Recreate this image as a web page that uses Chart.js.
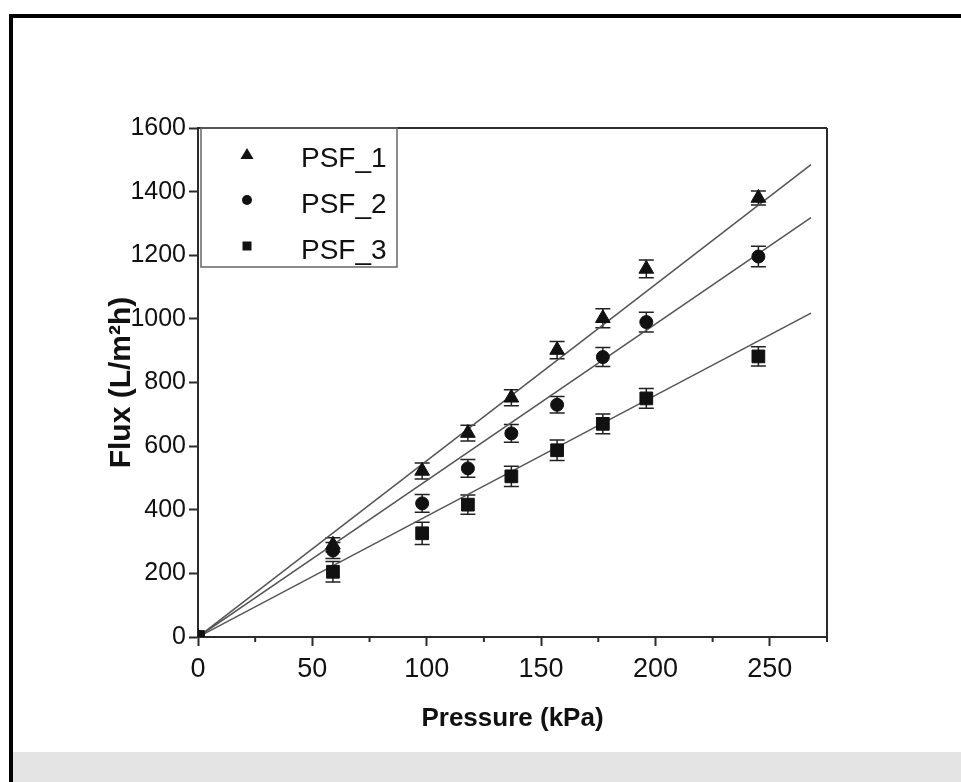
<!DOCTYPE html>
<html>
<head>
<meta charset="utf-8">
<title>Flux vs Pressure</title>
<script src="https://cdn.jsdelivr.net/npm/chart.js@4.4.1/dist/chart.umd.min.js"></script>
<style>
  html, body { margin: 0; padding: 0; background: #fff; }
  #wrap { position: relative; width: 961px; height: 782px; overflow: hidden; }
  #frame { position: absolute; left: 9px; top: 14px; width: 960px; height: 780px;
           border-top: 4px solid #000; border-left: 4px solid #000; }
  #shade { position: absolute; left: 13px; top: 752px; width: 948px; height: 30px; background: #e4e4e4; }
  canvas { position: absolute; left: 0; top: 0; }
</style>
</head>
<body>
<div id="wrap">
  <div id="shade"></div>
  <div id="frame"></div>
  <canvas id="fluxChart" width="961" height="782"></canvas>
</div>
<script>
// measured points (kPa -> L/m2h) with +/- error
const pressure = [0, 59, 98, 118, 137, 157, 177, 196, 245];
const psf1 = [0, 290, 522, 641, 752, 902, 1002, 1157, 1380];
const psf2 = [0, 272, 420, 530, 640, 730, 880, 990, 1196];
const psf3 = [0, 205, 326, 416, 505, 587, 670, 750, 882];
const err1 = [0, 22, 25, 25, 25, 27, 30, 28, 22];
const err2 = [0, 25, 28, 28, 28, 26, 30, 31, 32];
const err3 = [0, 32, 35, 30, 32, 32, 31, 31, 30];

// linear fits through the origin
const fitX = [0, 268];
const fit1 = [0, 1485];
const fit2 = [0, 1318];
const fit3 = [0, 1018];

const xTicks = [0, 50, 100, 150, 200, 250];
const xMinor = [25, 75, 125, 175, 225, 275];
const yTicks = [0, 200, 400, 600, 800, 1000, 1200, 1400, 1600];

const FONT = '"Liberation Sans", Arial, sans-serif';
const INK = '#111';
const AXIS = '#2b2b2b';

const series = [
  { label: 'PSF_1', values: psf1, err: err1, fit: fit1, style: 'triangle', radius: 8.5 },
  { label: 'PSF_2', values: psf2, err: err2, fit: fit2, style: 'circle', radius: 6.5 },
  { label: 'PSF_3', values: psf3, err: err3, fit: fit3, style: 'rect', radius: 9 }
];

const toPoints = (xs, ys) => xs.map((v, i) => ({ x: v, y: ys[i] }));

const markerSets = series.map(s => ({
  label: s.label,
  data: toPoints(pressure, s.values),
  pointStyle: s.style,
  pointRadius: s.radius,
  pointBackgroundColor: INK,
  pointBorderColor: INK,
  pointBorderWidth: 1,
  showLine: false
}));

const fitSets = series.map(s => ({
  label: s.label + ' fit',
  data: toPoints(fitX, s.fit),
  showLine: true,
  pointRadius: 0,
  borderColor: '#555',
  borderWidth: 1.5
}));

// vertical error bars with caps
const errorBars = {
  id: 'errorBars',
  beforeDatasetsDraw(chart) {
    const { ctx, scales: { x, y } } = chart;
    ctx.save();
    ctx.strokeStyle = '#222';
    ctx.lineWidth = 1.5;
    series.forEach(s => {
      pressure.forEach((p, i) => {
        const e = s.err[i];
        if (!e) return;
        const px = x.getPixelForValue(p);
        const top = y.getPixelForValue(s.values[i] + e);
        const bot = y.getPixelForValue(s.values[i] - e);
        ctx.beginPath();
        ctx.moveTo(px, top); ctx.lineTo(px, bot);
        ctx.moveTo(px - 7.5, top); ctx.lineTo(px + 7.5, top);
        ctx.moveTo(px - 7.5, bot); ctx.lineTo(px + 7.5, bot);
        ctx.stroke();
      });
    });
    ctx.restore();
  }
};

// closes the plot box and adds short minor ticks on x
const frameBox = {
  id: 'frameBox',
  afterDraw(chart) {
    const { ctx, chartArea: a, scales: { x } } = chart;
    ctx.save();
    ctx.strokeStyle = AXIS;
    ctx.lineWidth = 2;
    ctx.beginPath();
    ctx.moveTo(a.left, a.top); ctx.lineTo(a.right, a.top);
    ctx.moveTo(a.right, a.top); ctx.lineTo(a.right, a.bottom + 5);
    xMinor.forEach(v => {
      const px = x.getPixelForValue(v);
      ctx.moveTo(px, a.bottom); ctx.lineTo(px, a.bottom + 5);
    });
    ctx.stroke();
    ctx.restore();
  }
};

function drawMarker(ctx, style, cx, cy) {
  ctx.beginPath();
  if (style === 'triangle') {
    ctx.moveTo(cx, cy - 6);
    ctx.lineTo(cx + 6.5, cy + 5);
    ctx.lineTo(cx - 6.5, cy + 5);
    ctx.closePath();
  } else if (style === 'circle') {
    ctx.arc(cx, cy, 5, 0, Math.PI * 2);
  } else {
    ctx.rect(cx - 4.5, cy - 4.5, 9, 9);
  }
  ctx.fill();
}

// legend box sitting in the upper-left corner of the plot
const insetLegend = {
  id: 'insetLegend',
  afterDraw(chart) {
    const { ctx, chartArea: a } = chart;
    ctx.save();
    ctx.strokeStyle = '#666';
    ctx.lineWidth = 1.5;
    ctx.strokeRect(a.left + 3, a.top, 196, 139);
    ctx.fillStyle = INK;
    ctx.font = '28px ' + FONT;
    ctx.textBaseline = 'middle';
    ctx.textAlign = 'left';
    series.forEach((s, i) => {
      const cy = a.top + 26 + i * 46;
      drawMarker(ctx, s.style, a.left + 49, cy);
      ctx.fillText(s.label, a.left + 103, cy + 5);
    });
    ctx.restore();
  }
};

new Chart(document.getElementById('fluxChart'), {
  type: 'scatter',
  data: { datasets: [...markerSets, ...fitSets] },
  plugins: [errorBars, frameBox, insetLegend],
  options: {
    responsive: false,
    animation: false,
    devicePixelRatio: 1,
    layout: { padding: { left: 0, top: 128, right: 134, bottom: 25 } },
    plugins: {
      legend: { display: false },
      tooltip: { enabled: false }
    },
    scales: {
      x: {
        type: 'linear',
        min: 0,
        max: 275,
        afterBuildTicks: s => { s.ticks = xTicks.map(v => ({ value: v })); },
        afterFit: s => { s.height = 120; s.paddingLeft = 0; s.paddingRight = 0; },
        ticks: {
          font: { family: FONT, size: 27 }, color: INK, padding: 7,
          maxRotation: 0, autoSkip: false, callback: v => String(v)
        },
        grid: { drawOnChartArea: false, tickLength: 9, tickWidth: 2, tickColor: AXIS },
        border: { color: AXIS, width: 2 },
        title: {
          display: true,
          text: 'Pressure (kPa)',
          color: INK,
          font: { family: FONT, size: 26, weight: 'bold' },
          padding: { top: 0, bottom: 23 }
        }
      },
      y: {
        type: 'linear',
        min: 0,
        max: 1600,
        afterBuildTicks: s => { s.ticks = yTicks.map(v => ({ value: v })); },
        afterFit: s => { s.width = 198; s.paddingTop = 0; s.paddingBottom = 0; },
        ticks: {
          font: { family: FONT, size: 25 }, color: INK, padding: 3,
          autoSkip: false, callback: v => String(v)
        },
        grid: { drawOnChartArea: false, tickLength: 9, tickWidth: 2, tickColor: AXIS },
        border: { color: AXIS, width: 2 },
        title: {
          display: true,
          text: 'Flux (L/m²h)',
          color: INK,
          font: { family: FONT, size: 30, weight: 'bold' },
          padding: { top: 104, bottom: 0 }
        }
      }
    }
  }
});
</script>
</body>
</html>
